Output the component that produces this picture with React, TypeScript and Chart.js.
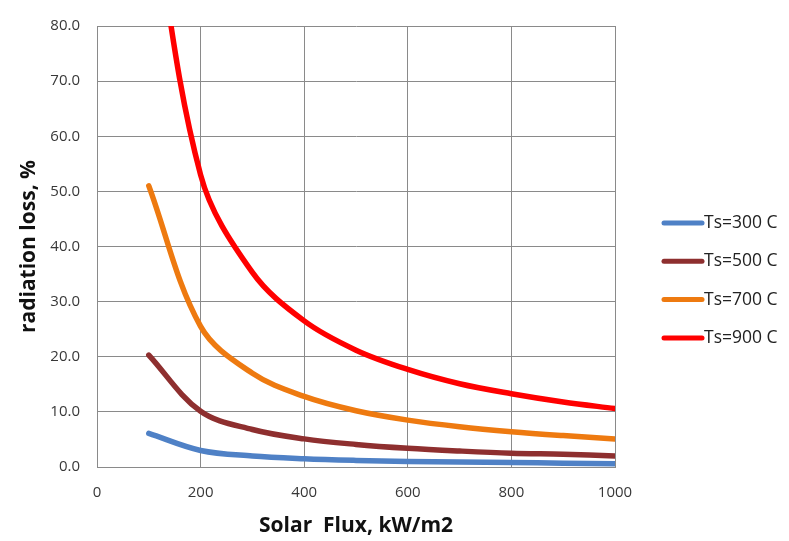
import React, { useEffect, useRef } from "react";
import { Chart, registerables } from "chart.js";

Chart.register(...registerables);

const solarFlux = [100, 200, 300, 400, 500, 600, 700, 800, 900, 1000];
const ts300 = [6.1, 3.0, 2.0, 1.5, 1.2, 1.0, 0.9, 0.8, 0.7, 0.6];
const ts500 = [20.3, 10.1, 6.8, 5.1, 4.1, 3.4, 2.9, 2.5, 2.3, 2.0];
const ts700 = [51.0, 25.5, 17.0, 12.8, 10.2, 8.5, 7.3, 6.4, 5.7, 5.1];
const ts900 = [106.0, 53.0, 35.3, 26.5, 21.2, 17.7, 15.1, 13.3, 11.8, 10.6];
const seriesNames = ["Ts=300 C", "Ts=500 C", "Ts=700 C", "Ts=900 C"];
const seriesColors = ["#4F81C6", "#8E2F2F", "#EE7A10", "#FF0000"];
const yTicks = [0, 10, 20, 30, 40, 50, 60, 70, 80];
const xTicks = [0, 200, 400, 600, 800, 1000];

const FONT = "'Open Sans', 'Liberation Sans', sans-serif";

const legendPlugin = {
  id: "sideLegend",
  afterDraw(chart: any) {
    const ctx = chart.ctx;
    ctx.save();
    chart.data.datasets.forEach((ds: any, i: number) => {
      const y = 223 + i * 38.3;
      ctx.strokeStyle = ds.borderColor;
      ctx.lineWidth = 5;
      ctx.lineCap = "round";
      ctx.beginPath();
      ctx.moveTo(664, y);
      ctx.lineTo(702, y);
      ctx.stroke();
      ctx.fillStyle = "#222";
      ctx.font = `17.5px ${FONT}`;
      ctx.textAlign = "left";
      ctx.textBaseline = "middle";
      ctx.fillText(ds.label, 704, y);
    });
    ctx.restore();
  },
};

export default function App() {
  const ref = useRef<HTMLCanvasElement | null>(null);
  useEffect(() => {
    if (!ref.current) return;
    const all = [ts300, ts500, ts700, ts900];
    const chart = new Chart(ref.current, {
      type: "line",
      data: {
        datasets: all.map((arr, i) => ({
          label: seriesNames[i],
          data: arr.map((v, j) => ({ x: solarFlux[j], y: v })),
          borderColor: seriesColors[i],
          backgroundColor: seriesColors[i],
          borderWidth: 5.5,
          pointRadius: 0,
          tension: 0.35,
          borderCapStyle: "round" as const,
          fill: false,
        })),
      },
      options: {
        animation: false,
        responsive: false,
        maintainAspectRatio: false,
        layout: { padding: { left: 0, right: 174, top: 18, bottom: 0 } },
        plugins: {
          legend: { display: false },
          tooltip: { enabled: false },
        },
        scales: {
          x: {
            type: "linear",
            min: 0,
            max: 1000,
            afterBuildTicks: (s: any) => {
              s.ticks = xTicks.map((v) => ({ value: v }));
            },
            afterFit: (s: any) => {
              s.height = 74;
            },
            grid: { color: "#8a8a8a", lineWidth: 1, drawTicks: false },
            border: { color: "#8a8a8a", width: 1 },
            ticks: {
              padding: 17,
              color: "#383838",
              font: { family: FONT, size: 15 },
              maxRotation: 0,
              callback: (v: any) => String(v),
            },
            title: {
              display: true,
              text: "Solar  Flux, kW/m2",
              color: "#111",
              font: { family: FONT, size: 21, weight: "bold" },
              padding: { top: 2, bottom: 2 },
            },
          },
          y: {
            type: "linear",
            min: 0,
            max: 80,
            afterBuildTicks: (s: any) => {
              s.ticks = yTicks.map((v) => ({ value: v }));
            },
            afterFit: (s: any) => {
              s.width = 97;
            },
            grid: { color: "#8a8a8a", lineWidth: 1, drawTicks: false },
            border: { color: "#8a8a8a", width: 1 },
            ticks: {
              padding: 17,
              color: "#383838",
              font: { family: FONT, size: 15 },
              callback: (v: any) => Number(v).toFixed(1),
            },
            title: {
              display: true,
              text: "radiation loss, %",
              color: "#111",
              font: { family: FONT, size: 21, weight: "bold" },
              padding: { top: 16, bottom: 16 },
            },
          },
        },
      },
      plugins: [legendPlugin],
    });
    return () => chart.destroy();
  }, []);
  return (
    <div style={{ position: "fixed", left: 0, top: 0, width: 789, height: 541, background: "#fff" }}>
      <canvas ref={ref} width={789} height={541} style={{ width: 789, height: 541, display: "block" }} />
    </div>
  );
}
